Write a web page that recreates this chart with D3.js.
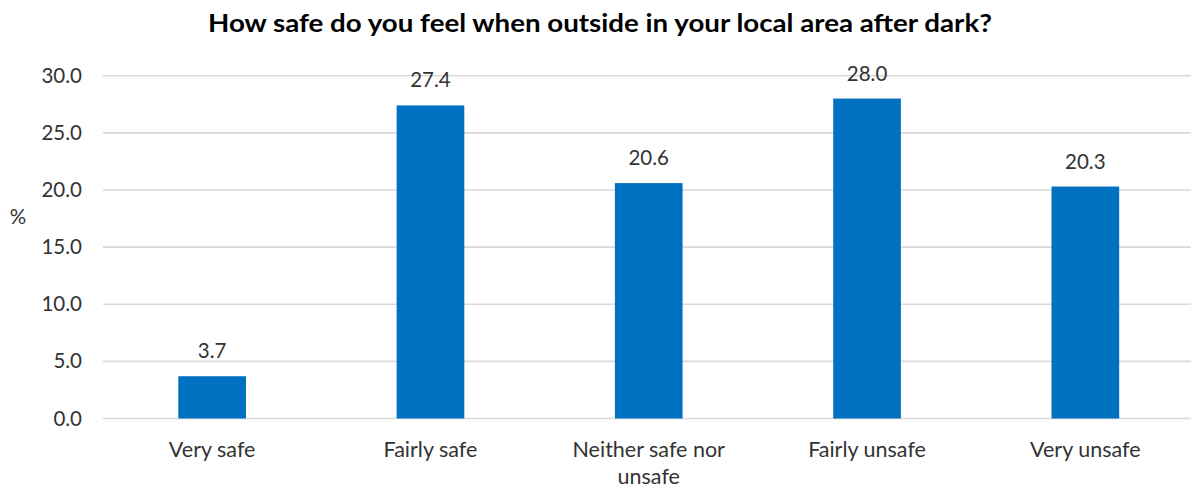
<!DOCTYPE html>
<html><head><meta charset="utf-8">
<script src="https://cdn.jsdelivr.net/npm/d3@7"></script>
<style>body{margin:0;background:#fff}svg{display:block}text{font-family:Lato,"Open Sans",sans-serif}</style>
</head><body>
<svg id="c" width="1191" height="489"></svg>
<script>
const categories = ["Very safe", "Fairly safe", "Neither safe nor unsafe", "Fairly unsafe", "Very unsafe"];
const categoryLines = [["Very safe"], ["Fairly safe"], ["Neither safe nor", "unsafe"], ["Fairly unsafe"], ["Very unsafe"]];
const values = [3.7, 27.4, 20.6, 28.0, 20.3];
const yTicks = [0, 5, 10, 15, 20, 25, 30];
const title = "How safe do you feel when outside in your local area after dark?";

const textColor = "#333333";
const svg = d3.select("#c");
const x = d3.scaleBand().domain(categories).range([103, 1194.5]).paddingInner(0.69).paddingOuter(0.345);
const y = d3.scaleLinear().domain([0, 30]).range([418.5, 75.7]);

// gridlines
svg.append("g").selectAll("line").data(yTicks).join("line")
  .attr("x1", 103).attr("x2", 1194.5)
  .attr("y1", d => y(d)).attr("y2", d => y(d))
  .attr("stroke", "#d9d9d9").attr("stroke-width", 1.6);

// y axis labels
const ya = d3.axisLeft(y).tickValues(yTicks).tickFormat(d3.format(".1f")).tickSize(0).tickPadding(0);
const yg = svg.append("g").attr("transform", "translate(82,0)").call(ya);
yg.select(".domain").remove();
yg.selectAll("text").attr("font-size", 20.5).attr("fill", textColor).style("font-family", "Lato");

// bars
svg.append("g").selectAll("rect").data(values).join("rect")
  .attr("x", (d, i) => x(categories[i])).attr("width", x.bandwidth())
  .attr("y", d => y(d)).attr("height", d => y(0) - y(d))
  .attr("fill", "#0070c0");

// data labels
svg.append("g").selectAll("text").data(values).join("text")
  .attr("x", (d, i) => x(categories[i]) + x.bandwidth() / 2)
  .attr("y", d => y(d) - 18)
  .attr("text-anchor", "middle").attr("font-size", 20.5).attr("fill", textColor)
  .text(d => d3.format(".1f")(d));

// category labels
const cg = svg.append("g").selectAll("text").data(categories).join("text")
  .attr("x", d => x(d) + x.bandwidth() / 2)
  .attr("y", 457)
  .attr("text-anchor", "middle").attr("font-size", 21.5).attr("fill", textColor);
cg.selectAll("tspan").data((d, i) => categoryLines[i]).join("tspan")
  .attr("x", function() { return this.parentNode.getAttribute("x"); })
  .attr("dy", (d, j) => j === 0 ? 0 : 27)
  .text(d => d);

// axis title
svg.append("text").attr("x", 18).attr("y", 224).attr("text-anchor", "middle")
  .attr("font-size", 20.5).attr("fill", textColor).text("%");

// title
const t = svg.append("text").attr("x", 600).attr("y", 32).attr("text-anchor", "middle")
  .attr("font-size", 24).attr("font-weight", "bold").attr("fill", "#000").text(title);
const tl = t.node().getComputedTextLength();
if (Math.abs(tl - 784) > 8) t.attr("textLength", 784).attr("lengthAdjust", "spacingAndGlyphs");
</script>
</body></html>
